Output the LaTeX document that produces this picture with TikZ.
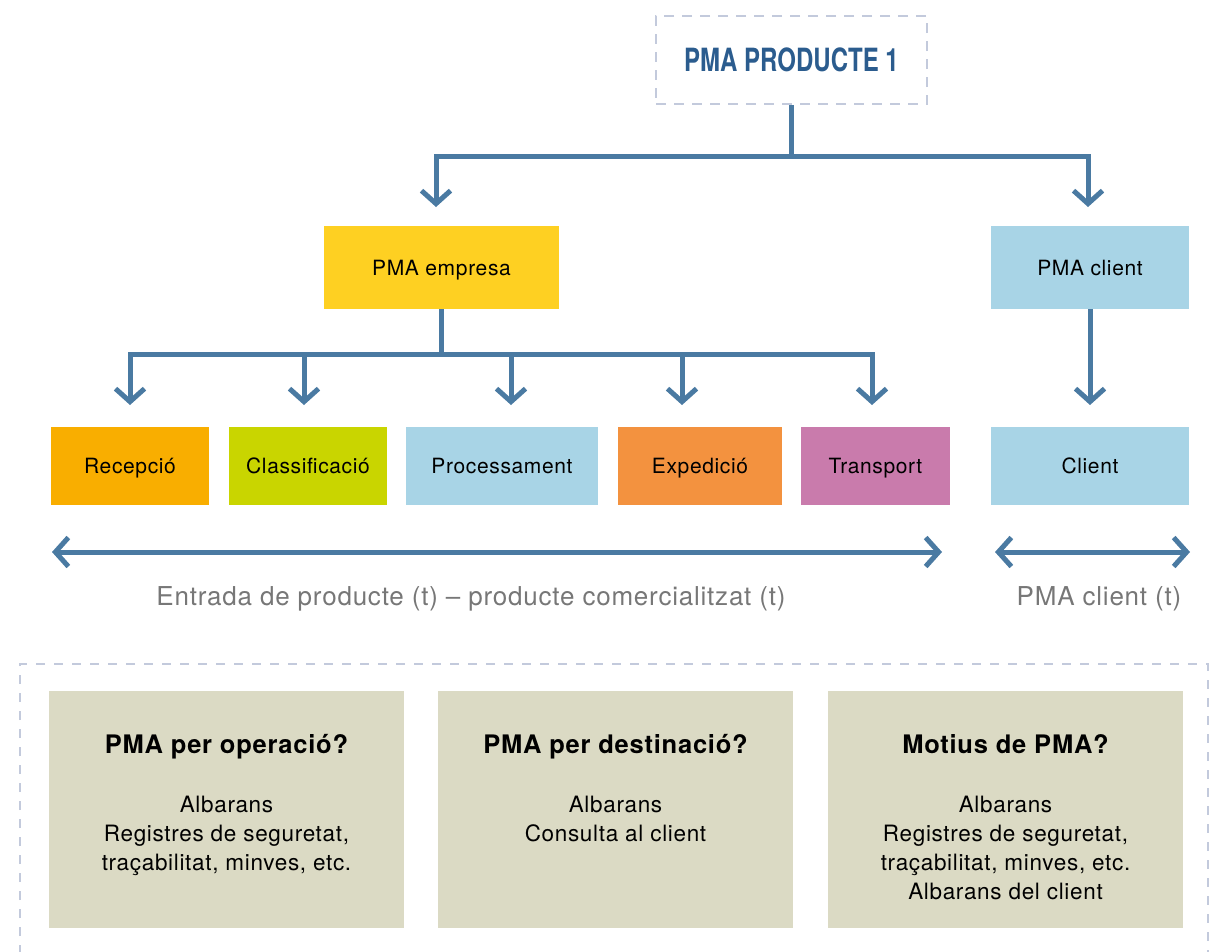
\documentclass[tikz,border=0pt]{standalone}
\usepackage{fontspec}
\setmainfont{TeX Gyre Heros}[LetterSpace=3]
\newfontfamily\condfont{TeX Gyre Heros}[FakeStretch=0.75]
\usetikzlibrary{arrows.meta}
\definecolor{arrowblue}{HTML}{4A7AA2}
\definecolor{titleblue}{HTML}{2B5C8E}
\definecolor{dashgray}{HTML}{C3CADC}
\definecolor{yellowbox}{HTML}{FED022}
\definecolor{lightblue}{HTML}{A8D4E6}
\definecolor{recep}{HTML}{F9AE00}
\definecolor{classif}{HTML}{C9D500}
\definecolor{exped}{HTML}{F3923F}
\definecolor{transp}{HTML}{C97BAC}
\definecolor{beige}{HTML}{DBDAC4}
\definecolor{labelgray}{HTML}{777777}
\begin{document}
\begin{tikzpicture}[x=1pt,y=-1pt,
  conn/.style={draw=arrowblue, line width=5pt},
  arr/.style={conn, -{Straight Barb[length=13pt,width=29pt]}},
  darr/.style={conn, {Straight Barb[length=13pt,width=29pt]}-{Straight Barb[length=13pt,width=29pt]}},
  colbox/.style={rectangle, inner sep=0pt, text height=15pt, text depth=0pt,
    font=\fontsize{21}{25}\selectfont, text=black},
  gray label/.style={inner sep=0pt, anchor=base, text=labelgray,
    font=\fontsize{26}{30}\selectfont},
  qbox/.style={rectangle, fill=beige, minimum width=355pt, minimum height=237pt, inner sep=0pt},
  qtitle/.style={inner sep=0pt, anchor=base, font=\bfseries\fontsize{25.5}{30}\selectfont},
  qbody/.style={inner sep=0pt, anchor=north, align=center, font=\fontsize{22.5}{29}\selectfont}
]
\clip (0,0) rectangle (1214,951);

% top node
\node[draw=dashgray, line width=2pt, dash pattern=on 10pt off 8pt,
  minimum width=271pt, minimum height=88pt, inner sep=0pt,
  text height=23pt, text depth=0pt, text=titleblue,
  font=\condfont\bfseries\fontsize{32}{36}\selectfont] (top) at (791.5,60) {PMA PRODUCTE 1};

% second level
\node[colbox, fill=yellowbox, minimum width=235pt, minimum height=83pt] (emp) at (441.5,267.5) {PMA empresa};
\node[colbox, fill=lightblue, minimum width=198pt, minimum height=83pt] (pcl) at (1090,267.5) {PMA client};

% third level
\node[colbox, fill=recep, minimum width=158pt, minimum height=78pt] (rec) at (130,466) {Recepció};
\node[colbox, fill=classif, minimum width=158pt, minimum height=78pt] (cla) at (308,466) {Classificació};
\node[colbox, fill=lightblue, minimum width=192pt, minimum height=78pt] (pro) at (502,466) {Processament};
\node[colbox, fill=exped, minimum width=164pt, minimum height=78pt] (exp) at (700,466) {Expedició};
\node[colbox, fill=transp, minimum width=149pt, minimum height=78pt] (tra) at (875.5,466) {Transport};
\node[colbox, fill=lightblue, minimum width=198pt, minimum height=78pt] (cli) at (1090,466) {Client};

% connector coordinates
\coordinate (j1) at (791.5,156);
\coordinate (a1) at (436,207);
\coordinate (a2) at (1088,207);
\coordinate (j2) at (441.5,354);
\coordinate (b1) at (130,405);
\coordinate (b2) at (304,405);
\coordinate (b3) at (511,405);
\coordinate (b4) at (682,405);
\coordinate (b5) at (872,405);
\coordinate (b6) at (1090,405);

\draw[conn] (top.south) -- (j1);
\draw[arr] (j1) -| (a1);
\draw[arr] (j1) -| (a2);
\draw[conn] (emp.south) -- (j2);
\draw[arr] (j2) -| (b1);
\draw[arr] (j2) -| (b2);
\draw[arr] (j2) -| (b3);
\draw[arr] (j2) -| (b4);
\draw[arr] (j2) -| (b5);
\draw[arr] (pcl.south) -- (b6);

% span arrows
\coordinate (s1) at (52,552);
\coordinate (s2) at (942,552);
\coordinate (s3) at (995,552);
\coordinate (s4) at (1190,552);
\draw[darr] (s1) -- (s2);
\draw[darr] (s3) -- (s4);
\node[gray label] (lab1) at (471,605) {Entrada de producte (t) – producte comercialitzat (t)};
\node[gray label] (lab2) at (1099,605) {PMA client (t)};

% bottom section
\draw[dashgray, line width=1.5pt, dash pattern=on 9pt off 9pt] (20,990) -- (20,664) -- (1208,664) -- (1208,990);

\node[qbox] (q1) at (226.5,809.5) {};
\node[qbox] (q2) at (615.5,809.5) {};
\node[qbox] (q3) at (1005.5,809.5) {};

\node[qtitle] (t1) at (226.5,753) {PMA per operació?};
\node[qtitle] (t2) at (615.5,753) {PMA per destinació?};
\node[qtitle] (t3) at (1005.5,753) {Motius de PMA?};

\node[qbody] (d1) at (226.5,796) {Albarans\\Registres de seguretat,\\traçabilitat, minves, etc.};
\node[qbody] (d2) at (615.5,796) {Albarans\\Consulta al client};
\node[qbody] (d3) at (1005.5,796) {Albarans\\Registres de seguretat,\\traçabilitat, minves, etc.\\Albarans del client};
\end{tikzpicture}
\end{document}
